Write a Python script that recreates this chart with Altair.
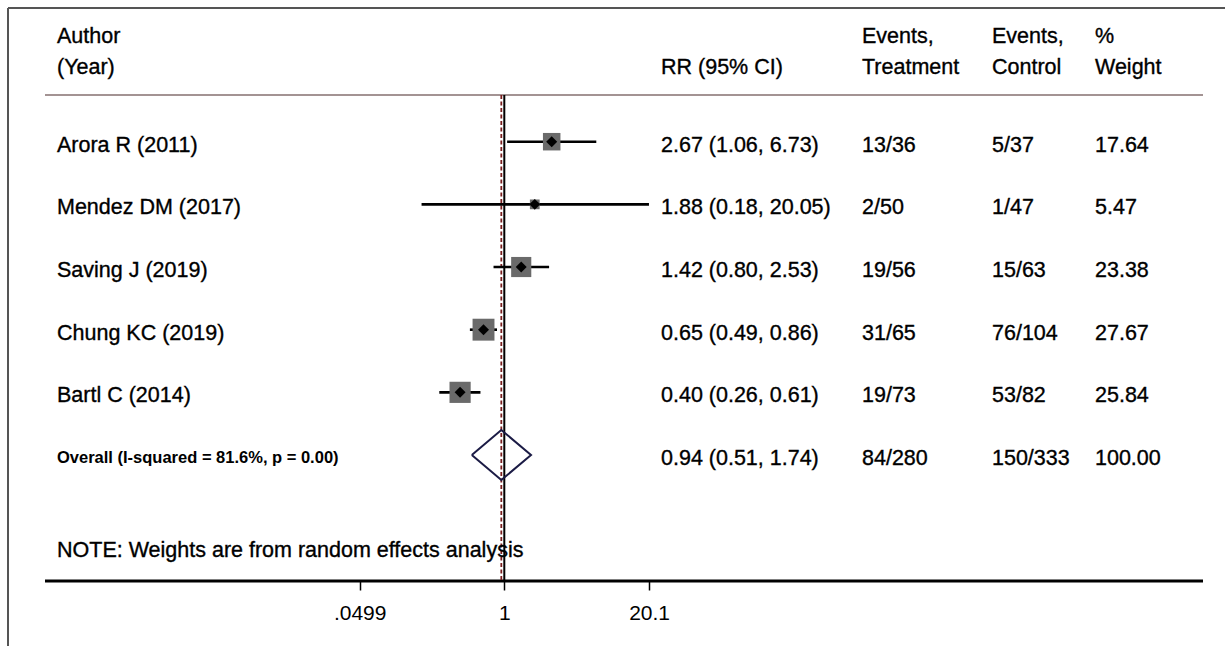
import altair as alt
import pandas as pd
import numpy as np

# ---------------- data ----------------
authors = ["Arora R (2011)", "Mendez DM (2017)", "Saving J (2019)",
           "Chung KC (2019)", "Bartl C (2014)"]
rr = [2.67, 1.88, 1.42, 0.65, 0.40]
ci_lo = [1.06, 0.18, 0.80, 0.49, 0.26]
ci_hi = [6.73, 20.05, 2.53, 0.86, 0.61]
events_t = ["13/36", "2/50", "19/56", "31/65", "19/73"]
events_c = ["5/37", "1/47", "15/63", "76/104", "53/82"]
weights = [17.64, 5.47, 23.38, 27.67, 25.84]

overall_label = "Overall (I-squared = 81.6%, p = 0.00)"
overall_rr = 0.94
overall_lo = 0.51
overall_hi = 1.74
overall_t = "84/280"
overall_c = "150/333"
overall_w = 100.00

tick_values = [0.0499, 1, 20.1]
tick_labels = [".0499", "1", "20.1"]

note_text = "NOTE: Weights are from random effects analysis"

# ---------------- layout ----------------
FONT = "Liberation Sans"
FS = 21.5
TSTROKE = 0.35
W, H = 1225, 581
PX_PER_DEC = 111.1
X_ONE = 504.3
ROW0 = 79.04
ROW_STEP = 62.66
DIAMOND_HALF = 0.4

xdom = [10 ** (-X_ONE / PX_PER_DEC), 10 ** ((W - X_ONE) / PX_PER_DEC)]
ydom = [-ROW0 / ROW_STEP, (H - ROW0) / ROW_STEP]

xs = alt.Scale(type="log", domain=xdom, nice=False)
ys = alt.Scale(domain=ydom, reverse=True, nice=False, zero=False)

label_expr = " : ".join(
    [f"datum.value == {v} ? '{l}'" for v, l in zip(tick_values[:-1], tick_labels[:-1])]
) + f" : '{tick_labels[-1]}'"

xaxis = alt.Axis(values=tick_values, labelExpr=label_expr, domain=False, grid=False,
                 ticks=True, tickSize=9, tickWidth=1.5, tickColor="black",
                 labelFontSize=21, labelFont=FONT, labelColor="black",
                 labelPadding=12, title=None, labelFlush=False, labelOverlap=False)

n = len(authors)
studies = pd.DataFrame({
    "author": authors, "rr": rr, "lo": ci_lo, "hi": ci_hi,
    "et": events_t, "ec": events_c, "w": weights,
    "row": list(range(1, n + 1)),
})
studies["rr_txt"] = [f"{a:.2f} ({b:.2f}, {c:.2f})" for a, b, c in zip(rr, ci_lo, ci_hi)]
studies["w_txt"] = [f"{w:.2f}" for w in weights]

overall_row = n + 1
overall = pd.DataFrame({
    "label": [overall_label],
    "rr_txt": [f"{overall_rr:.2f} ({overall_lo:.2f}, {overall_hi:.2f})"],
    "et": [overall_t], "ec": [overall_c], "w_txt": [f"{overall_w:.2f}"],
    "row": [overall_row],
})

diamond = pd.DataFrame({
    "x": [overall_lo, overall_rr, overall_hi, overall_rr, overall_lo],
    "y": [overall_row, overall_row - DIAMOND_HALF, overall_row,
          overall_row + DIAMOND_HALF, overall_row],
    "ord": [0, 1, 2, 3, 4],
})

one = pd.DataFrame({"k": [0]})

X = lambda f: alt.X(f, scale=xs, axis=xaxis)
Y = lambda f: alt.Y(f, scale=ys, axis=None)

base = alt.Chart(studies)

ci = base.mark_rule(color="black", strokeWidth=2.6).encode(
    x=X("lo:Q"), x2="hi:Q", y=Y("row:Q"))

squares = base.mark_square(filled=True, color="#6a6a6a", opacity=1).encode(
    x=X("rr:Q"), y=Y("row:Q"),
    size=alt.Size("w:Q", scale=alt.Scale(domain=[0, max(weights)], range=[0, 480]),
                  legend=None))

points = base.mark_point(shape="diamond", filled=True, color="black",
                         size=120, opacity=1).encode(x=X("rr:Q"), y=Y("row:Q"))

diam = alt.Chart(diamond).mark_line(color="#1b1b45", strokeWidth=2).encode(
    x=X("x:Q"), y=Y("y:Q"), order=alt.Order("ord:Q"))

null_line = alt.Chart(pd.DataFrame({"v": [1.0]})).mark_rule(
    color="black", strokeWidth=2).encode(
    x=X("v:Q"), y=alt.value(95), y2=alt.value(581))

est_line = alt.Chart(pd.DataFrame({"v": [overall_rr]})).mark_rule(
    color="#7a1f1f", strokeWidth=1.8, strokeDash=[4, 2.5]).encode(
    x=X("v:Q"), y=alt.value(95), y2=alt.value(581))


def col_text(df, field, xpos, size=FS, weight="normal", dy=10, stroke=TSTROKE):
    return alt.Chart(df).mark_text(
        align="left", baseline="alphabetic", dy=dy, fontSize=size,
        font=FONT, fontWeight=weight, color="black",
        stroke="black", strokeWidth=stroke).encode(
        x=alt.value(xpos), y=Y("row:Q"), text=f"{field}:N")


texts = [
    col_text(studies, "author", 57),
    col_text(studies, "rr_txt", 661),
    col_text(studies, "et", 862),
    col_text(studies, "ec", 992),
    col_text(studies, "w_txt", 1095),
    col_text(overall, "label", 57, size=16.5, weight="bold", dy=7.7, stroke=0.01),
    col_text(overall, "rr_txt", 661),
    col_text(overall, "et", 862),
    col_text(overall, "ec", 992),
    col_text(overall, "w_txt", 1095),
]


def fixed_text(txt, xpos, ypos, size=FS):
    return alt.Chart(one).mark_text(
        align="left", baseline="alphabetic", fontSize=size, font=FONT,
        color="black", stroke="black", strokeWidth=TSTROKE,
        lineBreak="\n", lineHeight=31).encode(
        x=alt.value(xpos), y=alt.value(ypos), text=alt.value(txt))


headers = [
    fixed_text("Author\n(Year)", 57, 43),
    fixed_text("RR (95% CI)", 661, 74),
    fixed_text("Events,\nTreatment", 862, 43),
    fixed_text("Events,\nControl", 992, 43),
    fixed_text("%\nWeight", 1095, 43),
    fixed_text(note_text, 57, 557),
]


def hrule(x1, x2, y, color, sw):
    return alt.Chart(one).mark_rule(color=color, strokeWidth=sw).encode(
        x=alt.value(x1), x2=alt.value(x2), y=alt.value(y))


def vrule(x, y1, y2, color, sw):
    return alt.Chart(one).mark_rule(color=color, strokeWidth=sw).encode(
        x=alt.value(x), y=alt.value(y1), y2=alt.value(y2))


frame = [
    hrule(8, 1225, 8, "#555555", 2),
    vrule(8, 8, 646, "#555555", 2),
    hrule(45, 1203, 95, "#a39393", 2),
    hrule(45, 1203, 581, "black", 3),
]

chart = alt.layer(
    *frame, null_line, est_line, ci, squares, points, diam, *texts, *headers
).properties(
    width=W, height=H,
    autosize=alt.AutoSizeParams(type="none"),
    padding={"left": 0, "right": 0, "top": 0, "bottom": 646 - H},
    background="white",
).configure_view(strokeWidth=0)

chart.save("out.html", embed_options={"renderer": "svg", "actions": False})
